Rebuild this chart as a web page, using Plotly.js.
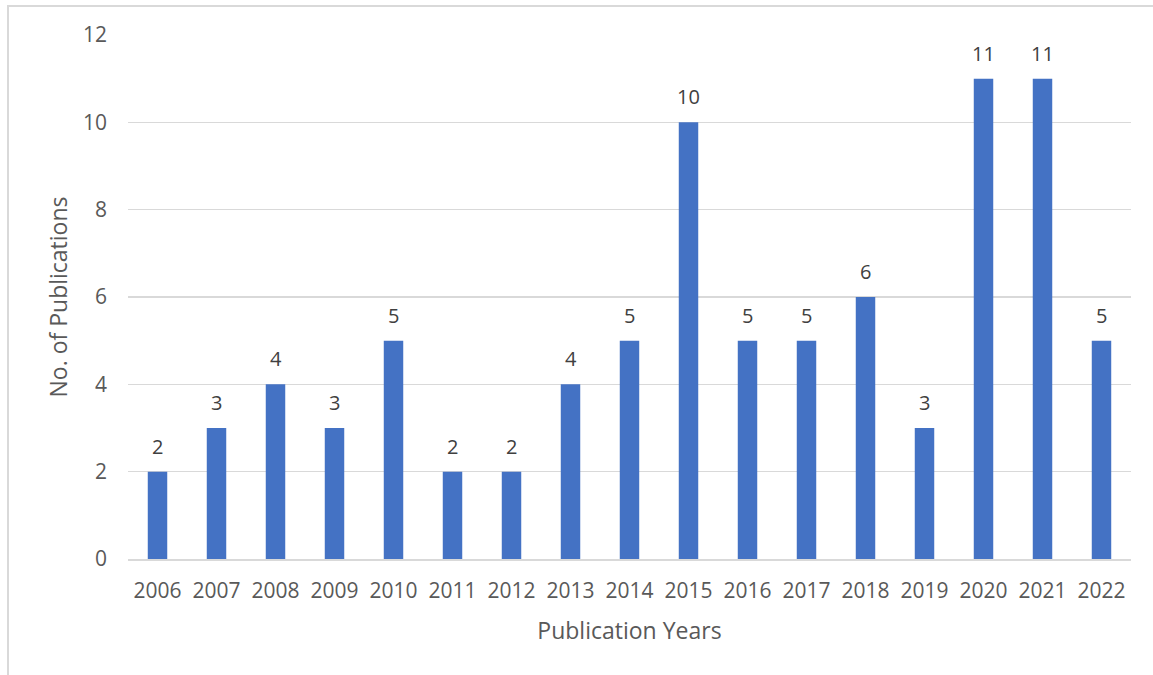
<!DOCTYPE html>
<html><head><meta charset="utf-8">
<script src="https://cdn.plot.ly/plotly-3.0.1.min.js"></script>
<style>
html,body{margin:0;padding:0;background:#fff;overflow:hidden;}
#frame{position:absolute;left:7px;top:5px;width:1200px;height:720px;border-left:2px solid #d9d9d9;border-top:2px solid #d9d9d9;}
#chart{position:absolute;left:0;top:0;width:1153px;height:675px;}
</style></head>
<body>
<div id="frame"></div>
<div id="chart"></div>
<script>
const years = ['2006','2007','2008','2009','2010','2011','2012','2013','2014','2015','2016','2017','2018','2019','2020','2021','2022'];
const publications = [2,3,4,3,5,2,2,4,5,10,5,5,6,3,11,11,5];
const yTicks = [0,2,4,6,8,10,12];

const fam = '"Open Sans", "Liberation Sans", sans-serif';
const tickFont = {family:fam, size:21, color:'#595959'};
const titleFont = {family:fam, size:23, color:'#595959'};
const annotations = years.map((yr,i)=>({
  x:i, y:publications[i], xref:'x', yref:'y', text:String(publications[i]),
  showarrow:false, yanchor:'bottom', yshift:10,
  font:{family:fam,size:20,color:'#404040'}
}));
Plotly.newPlot('chart',[{
  type:'bar', x:years, y:publications,
  marker:{color:'#4472c4'},
  cliponaxis:false, hoverinfo:'none'
}],{
  width:1153,height:675,
  paper_bgcolor:'rgba(0,0,0,0)',plot_bgcolor:'rgba(0,0,0,0)',
  margin:{l:128,r:22,t:35,b:116},
  bargap:0.67,
  font:tickFont,
  showlegend:false,
  annotations:annotations,
  xaxis:{type:'category',range:[-0.5,years.length-0.5],showgrid:false,showline:true,linecolor:'#d9d9d9',linewidth:1.5,ticks:'',
    tickfont:tickFont,ticklabelstandoff:12,title:{text:'Publication Years',font:titleFont,standoff:20}},
  yaxis:{range:[0,12],tickvals:yTicks,showgrid:true,gridcolor:'#d9d9d9',gridwidth:1.3,zeroline:false,showline:false,
    ticks:'',ticklen:0,tickfont:tickFont,ticklabelstandoff:20,
    title:{text:'No. of Publications',font:titleFont,standoff:8}}
},{displayModeBar:false,staticPlot:true});
</script>
</body></html>
